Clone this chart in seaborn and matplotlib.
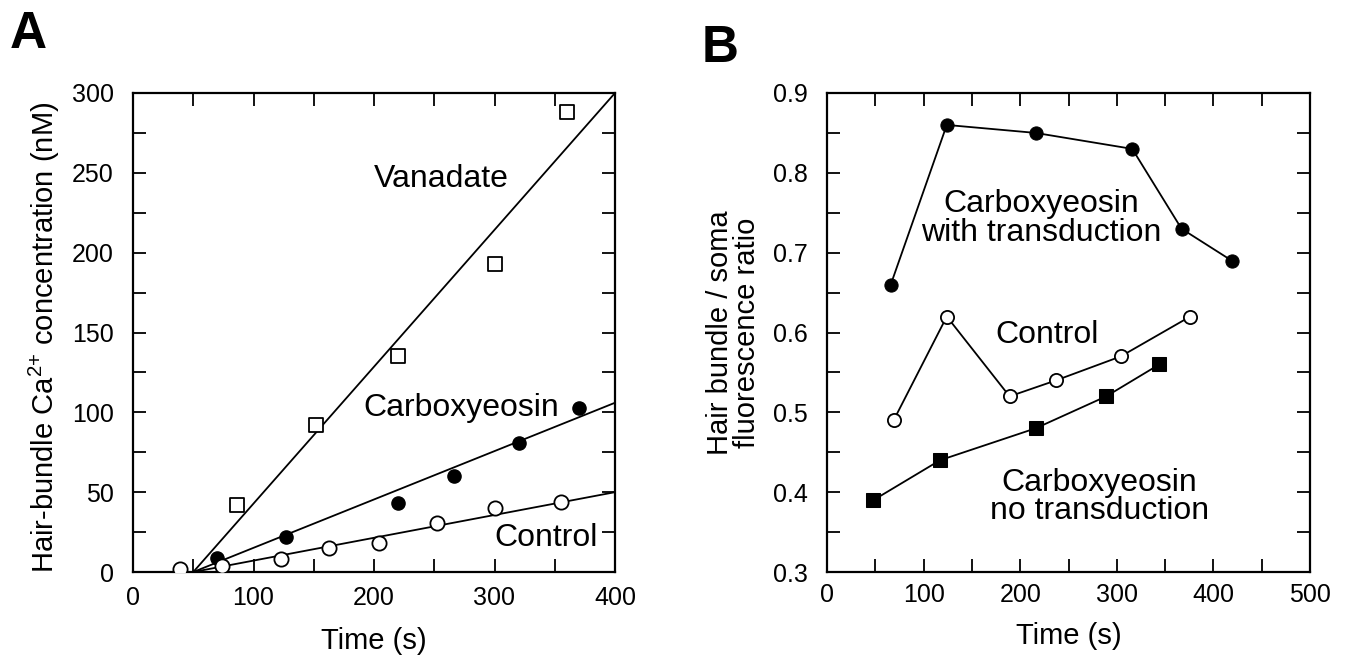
import numpy as np
import pandas as pd
import matplotlib
matplotlib.use("Agg")
import matplotlib.pyplot as plt
from matplotlib.ticker import MultipleLocator
import seaborn as sns

# ---------------- Data: panel A ----------------
vanadate_t = [86, 152, 220, 300, 360]
vanadate_ca = [42, 92, 135, 193, 288]
carboxy_t = [70, 127, 220, 266, 320, 370]
carboxy_ca = [9, 22, 43, 60, 81, 103]
control_t = [39, 74, 123, 163, 204, 252, 300, 355]
control_ca = [2, 4, 8, 15, 18, 31, 40, 44]
# fitted lines (endpoints)
fit_t = [50, 400]
vanadate_fit = [0, 300]
carboxy_fit = [0, 106]
control_fit = [0, 50]

# ---------------- Data: panel B ----------------
with_t = [66, 124, 216, 316, 367, 419]
with_ratio = [0.66, 0.86, 0.85, 0.83, 0.73, 0.69]
ctrl_t = [69, 124, 189, 237, 304, 376]
ctrl_ratio = [0.49, 0.62, 0.52, 0.54, 0.57, 0.62]
no_t = [48, 117, 216, 289, 344]
no_ratio = [0.39, 0.44, 0.48, 0.52, 0.56]

sns.set_theme(style="ticks")
plt.rcParams['font.family'] = ['Liberation Sans', 'DejaVu Sans']
plt.rcParams['mathtext.fontset'] = 'custom'
plt.rcParams['mathtext.rm'] = 'Liberation Sans'
plt.rcParams['mathtext.it'] = 'Liberation Sans'
plt.rcParams['text.color'] = 'black'
plt.rcParams['axes.labelcolor'] = 'black'
plt.rcParams['xtick.color'] = 'black'
plt.rcParams['ytick.color'] = 'black'

TICK_FS = 18
LABEL_FS = 21
TEXT_FS = 23

fig = plt.figure(figsize=(13.48, 6.61), dpi=100)
axA = fig.add_axes([133/1348, 89/661, 482/1348, 479/661])
axB = fig.add_axes([827/1348, 89/661, 483/1348, 479/661])

def style_axes(ax):
    for s in ax.spines.values():
        s.set_linewidth(1.6)
        s.set_color('black')
    ax.tick_params(which='both', direction='in', top=True, right=True,
                   length=9.5, width=1.3, color='black', labelsize=TICK_FS,
                   labelcolor='black')
    ax.tick_params(axis='y', which='both', pad=14)
    ax.tick_params(axis='x', which='both', pad=10)

# ---- Panel A ----
lw = 1.3
for fy in [vanadate_fit, carboxy_fit, control_fit]:
    sns.lineplot(x=fit_t, y=fy, ax=axA, color='black', linewidth=lw)
sns.scatterplot(x=vanadate_t, y=vanadate_ca, ax=axA, marker='s', s=100,
                facecolor='white', edgecolor='black', linewidth=1.3, zorder=3)
sns.scatterplot(x=carboxy_t, y=carboxy_ca, ax=axA, marker='o', s=90,
                color='black', edgecolor='black', linewidth=1.0, zorder=3)
sns.scatterplot(x=control_t, y=control_ca, ax=axA, marker='o', s=105,
                facecolor='white', edgecolor='black', linewidth=1.3, zorder=3)
axA.set_xlim(0, 400)
axA.set_ylim(0, 300)
axA.xaxis.set_major_locator(MultipleLocator(100))
axA.xaxis.set_minor_locator(MultipleLocator(50))
axA.yaxis.set_major_locator(MultipleLocator(50))
axA.yaxis.set_minor_locator(MultipleLocator(25))
style_axes(axA)
axA.set_xlabel('Time (s)', fontsize=LABEL_FS)
axA.set_ylabel('Hair-bundle Ca$^{2{+}}$ concentration (nM)', fontsize=LABEL_FS)
axA.xaxis.set_label_coords(0.5, -0.114)
axA.yaxis.set_label_coords(-0.148, 0.49)
axA.text(256, 246, 'Vanadate', fontsize=TEXT_FS, ha='center', va='center')
axA.text(272, 103, 'Carboxyeosin', fontsize=TEXT_FS, ha='center', va='center')
axA.text(343, 21, 'Control', fontsize=TEXT_FS, ha='center', va='center')

# ---- Panel B ----
sns.lineplot(x=with_t, y=with_ratio, ax=axB, sort=False, color='black', linewidth=lw,
             marker='o', markersize=9.5, markerfacecolor='black', markeredgecolor='black')
sns.lineplot(x=ctrl_t, y=ctrl_ratio, ax=axB, sort=False, color='black', linewidth=lw,
             marker='o', markersize=9.5, markerfacecolor='white', markeredgecolor='black',
             markeredgewidth=1.3)
sns.lineplot(x=no_t, y=no_ratio, ax=axB, sort=False, color='black', linewidth=lw,
             marker='s', markersize=10, markerfacecolor='black', markeredgecolor='black')
axB.set_xlim(0, 500)
axB.set_ylim(0.3, 0.9)
axB.xaxis.set_major_locator(MultipleLocator(100))
axB.xaxis.set_minor_locator(MultipleLocator(50))
axB.yaxis.set_major_locator(MultipleLocator(0.1))
axB.yaxis.set_minor_locator(MultipleLocator(0.05))
style_axes(axB)
axB.tick_params(axis='x', which='both', pad=8)
axB.set_xlabel('Time (s)', fontsize=LABEL_FS)
axB.set_ylabel('Hair bundle / soma\nfluorescence ratio', fontsize=LABEL_FS,
               linespacing=0.95)
axB.xaxis.set_label_coords(0.5, -0.105)
axB.yaxis.set_label_coords(-0.137, 0.5)
axB.text(222, 0.743, 'Carboxyeosin\nwith transduction', fontsize=TEXT_FS,
         ha='center', va='center', linespacing=0.95)
axB.text(228, 0.597, 'Control', fontsize=TEXT_FS, ha='center', va='center')
axB.text(282, 0.394, 'Carboxyeosin\nno transduction', fontsize=TEXT_FS,
         ha='center', va='center', linespacing=0.95)

fig.text(10/1348, 1 - 10/661, 'A', fontsize=37, fontweight='bold', ha='left', va='top')
fig.text(702/1348, 1 - 24/661, 'B', fontsize=37, fontweight='bold', ha='left', va='top')

fig.savefig('out.png', dpi=100, facecolor='white')
